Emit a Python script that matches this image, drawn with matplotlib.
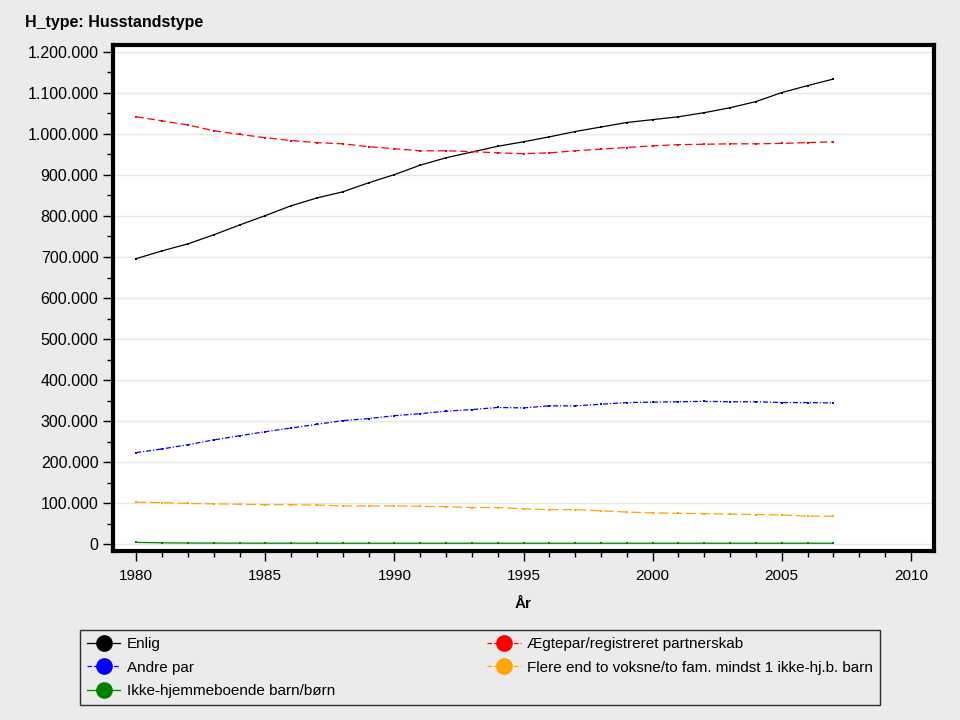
import matplotlib.pyplot as plt
from matplotlib.ticker import FuncFormatter, MultipleLocator

plt.rcParams['font.family'] = ['Liberation Sans', 'DejaVu Sans']

years = list(range(1980, 2008))

enlig = [696000, 715000, 732000, 754000, 778000, 801000, 825000, 844000, 859000, 881000,
         901000, 924000, 942000, 956000, 970000, 981000, 993000, 1006000, 1017000, 1028000,
         1035000, 1042000, 1052000, 1064000, 1079000, 1101000, 1118000, 1134000]
aegtepar = [1042000, 1032000, 1022000, 1008000, 999000, 991000, 984000, 979000, 976000, 969000,
            964000, 959000, 959000, 957000, 954000, 952000, 954000, 959000, 963000, 967000,
            971000, 974000, 975000, 976000, 976000, 977000, 979000, 981000]
andre_par = [223000, 232000, 242000, 254000, 264000, 274000, 283000, 292000, 301000, 306000,
             313000, 318000, 324000, 328000, 333000, 332000, 337000, 337000, 341000, 345000,
             346000, 347000, 348000, 347000, 347000, 345000, 345000, 344000]
flere = [102000, 101000, 99000, 98000, 97000, 96000, 96000, 95000, 93000, 93000,
         93000, 92000, 91000, 89000, 89000, 86000, 84000, 84000, 81000, 78000,
         76000, 75000, 74000, 73000, 72000, 71000, 68000, 68000]
ikke_hjemme = [4000, 3000, 2500, 2300, 2200, 2100, 2100, 2000, 2000, 2000,
               2000, 2000, 2000, 2000, 2000, 2000, 2000, 2000, 2000, 2000,
               2000, 2000, 2000, 2000, 2000, 2000, 2000, 2000]

series = [
    ("Enlig", enlig, "black", "-"),
    ("Ægtepar/registreret partnerskab", aegtepar, "red", (0, (6, 3))),
    ("Andre par", andre_par, "blue", (0, (4, 1.5, 1, 1.5))),
    ("Flere end to voksne/to fam. mindst 1 ikke-hj.b. barn", flere, "orange", (0, (8, 3))),
    ("Ikke-hjemmeboende barn/børn", ikke_hjemme, "green", "-"),
]

bg = "#ebebeb"
fig = plt.figure(figsize=(9.6, 7.2), dpi=100, facecolor=bg)
ax = fig.add_axes([0.1177, 0.2347, 0.8553, 0.7028])
ax.set_facecolor("white")

lines = {}
for name, vals, col, ls in series:
    ln, = ax.plot(years, vals, color=col, linestyle=ls, linewidth=0.9,
                  marker="s", markersize=1.8, markeredgewidth=0)
    lines[name] = ln

ax.set_xlim(1979.1, 2010.9)
ax.set_ylim(-17000, 1217000)
ax.xaxis.set_major_locator(MultipleLocator(5))
ax.xaxis.set_minor_locator(MultipleLocator(1))
ax.yaxis.set_major_locator(MultipleLocator(100000))
ax.yaxis.set_minor_locator(MultipleLocator(50000))
ax.yaxis.set_major_formatter(FuncFormatter(lambda v, p: f"{int(v):,}".replace(",", ".")))

ax.grid(axis="y", which="major", color="#e6e6e6", linewidth=1)
ax.set_axisbelow(True)
for s in ax.spines.values():
    s.set_linewidth(3)
ax.tick_params(axis="y", which="major", direction="out", length=7, width=1, labelsize=11.5)
ax.tick_params(axis="x", which="major", direction="out", length=7, width=1, labelsize=11, pad=6)
ax.tick_params(which="minor", direction="out", length=4, width=1)

ax.set_xlabel("År", fontsize=11, fontweight="bold", labelpad=10)
fig.text(0.026, 0.969, "H_type: Husstandstype", fontsize=11.5, fontweight="bold", va="center")

order = ["Enlig", "Andre par", "Ikke-hjemmeboende barn/børn",
         "Ægtepar/registreret partnerskab",
         "Flere end to voksne/to fam. mindst 1 ikke-hj.b. barn"]
handles = [plt.Line2D([], [], color=lines[n].get_color(), linestyle=lines[n].get_linestyle(),
                      linewidth=0.9, marker="o", markersize=11) for n in order]
leg = fig.legend(handles, order, loc="lower left", ncol=2, mode="expand",
                 bbox_to_anchor=(0.0833, 0.0208, 0.833, 0.107), fontsize=11,
                 frameon=True, fancybox=False, edgecolor="black", facecolor=bg,
                 handlelength=2.2, handletextpad=0.4, borderpad=0.45, labelspacing=0.62,
                 borderaxespad=0)
leg.get_frame().set_linewidth(1)

fig.savefig("out.png", dpi=100, facecolor=bg)
